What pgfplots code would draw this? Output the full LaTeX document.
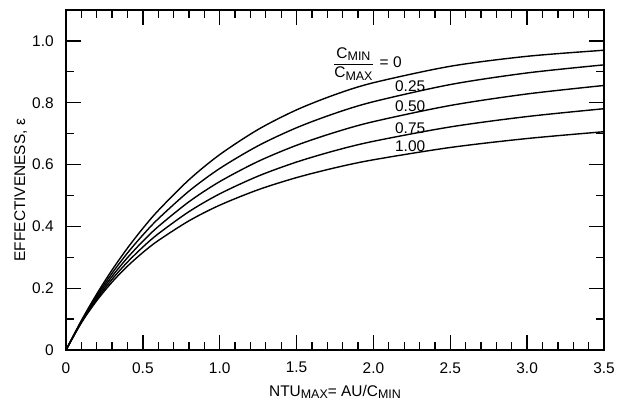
\documentclass[border=0pt]{standalone}
\usepackage{fontspec}
\setmainfont{Liberation Sans}
\usepackage{amsmath}
\usepackage{pgfplots}
\pgfplotsset{compat=1.18}
\newcommand\sub[1]{\raisebox{-0.35ex}{\fontsize{12.5}{13}\selectfont #1}}
\newcommand\lf{\fontsize{15.5}{18}\selectfont}
\begin{document}
\lf
\begin{tikzpicture}
\useasboundingbox (-66bp,-53bp) rectangle (567bp,350bp);
\begin{axis}[
  at={(0,0)}, anchor=south west,
  scale only axis, width=538bp, height=340bp,
  xmin=0, xmax=3.5, ymin=0, ymax=1.1,
  xtick={0,0.5,1,1.5,2,2.5,3,3.5},
  xticklabels={0,0.5,1.0,1.5,2.0,2.5,3.0,3.5},
  ytick={0,0.2,0.4,0.6,0.8,1.0},
  yticklabels={0,0.2,0.4,0.6,0.8,1.0},
  minor x tick num=4, minor y tick num=1,
  tick align=inside,
  major tick length=15bp, minor tick length=8bp,
  tick style={black, line width=1.3bp},
  axis line style={line width=2.2bp},
  tick label style={font=\lf},
  xticklabel style={yshift=-7bp},
  yticklabel style={xshift=-7bp},
  xlabel={NTU\sub{MAX}= AU/C\sub{MIN}},
  ylabel={EFFECTIVENESS, ε},
  label style={font=\lf},
  xlabel style={at={(rel axis cs:0.5,0)}, anchor=base, yshift=-46bp},
  ylabel style={at={(rel axis cs:-0.0762,0.47)}, anchor=base},
]
\addplot[black, line width=1.4bp, smooth] coordinates {
(0,0)(0.1,0.0952)(0.2,0.1813)(0.3,0.2592)(0.4,0.3297)(0.5,0.3935)(0.6,0.4512)(0.8,0.5507)(1.0,0.6321)(1.25,0.7135)(1.5,0.7769)(1.75,0.8262)(2.0,0.8647)(2.5,0.9179)(3.0,0.9502)(3.5,0.9698)};
\addplot[black, line width=1.4bp, smooth] coordinates {
(0,0)(0.1,0.0933)(0.2,0.1756)(0.3,0.2486)(0.4,0.3138)(0.5,0.3721)(0.6,0.4244)(0.8,0.5140)(1.0,0.5872)(1.25,0.6608)(1.5,0.7191)(1.75,0.7657)(2.0,0.8033)(2.5,0.8588)(3.0,0.8964)(3.5,0.9225)};
\addplot[black, line width=1.4bp, smooth] coordinates {
(0,0)(0.1,0.0915)(0.2,0.1701)(0.3,0.2385)(0.4,0.2987)(0.5,0.3520)(0.6,0.3993)(0.8,0.4796)(1.0,0.5448)(1.25,0.6102)(1.5,0.6623)(1.75,0.7043)(2.0,0.7388)(2.5,0.7911)(3.0,0.8284)(3.5,0.8558)};
\addplot[black, line width=1.4bp, smooth] coordinates {
(0,0)(0.1,0.0897)(0.2,0.1648)(0.3,0.2290)(0.4,0.2845)(0.5,0.3331)(0.6,0.3759)(0.8,0.4476)(1.0,0.5052)(1.25,0.5626)(1.5,0.6081)(1.75,0.6450)(2.0,0.6752)(2.5,0.7217)(3.0,0.7553)(3.5,0.7806)};
\addplot[black, line width=1.4bp, smooth] coordinates {
(0,0)(0.1,0.0880)(0.2,0.1597)(0.3,0.2199)(0.4,0.2712)(0.5,0.3155)(0.6,0.3540)(0.8,0.4179)(1.0,0.4685)(1.25,0.5185)(1.5,0.5578)(1.75,0.5895)(2.0,0.6154)(2.5,0.6552)(3.0,0.6842)(3.5,0.7062)};
\node[anchor=base west, inner sep=0pt] at (axis cs:1.737,0.913) {$\dfrac{\text{C\sub{MIN}}}{\text{C\sub{MAX}}}$\hspace{6bp}= 0};
\node[anchor=base west, inner sep=0pt] at (axis cs:2.14,0.835) {0.25};
\node[anchor=base west, inner sep=0pt] at (axis cs:2.14,0.770) {0.50};
\node[anchor=base west, inner sep=0pt] at (axis cs:2.14,0.702) {0.75};
\node[anchor=base west, inner sep=0pt] at (axis cs:2.14,0.641) {1.00};
\end{axis}
\end{tikzpicture}
\end{document}
